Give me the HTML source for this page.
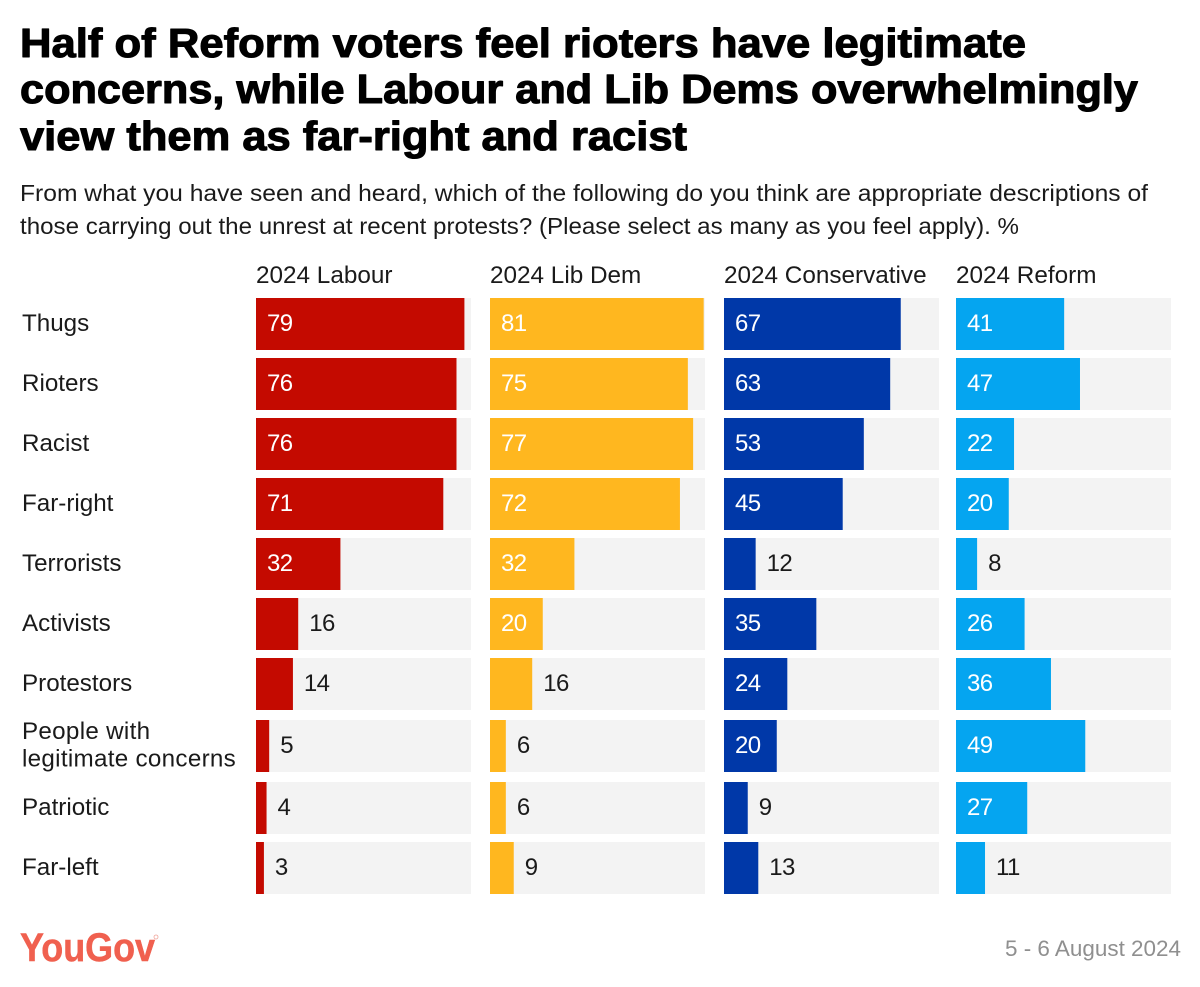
<!DOCTYPE html>
<html lang="en">
<head>
<meta charset="utf-8">
<title>YouGov chart</title>
<style>
html,body{margin:0;padding:0;background:#fff;width:1200px;height:987px;overflow:hidden}
svg{display:block}
text{font-family:"Liberation Sans",sans-serif}
.title{font-size:41px;font-weight:700;fill:#000;stroke:#000;stroke-width:1.1px;stroke-linejoin:round}
.sub{font-size:23.5px;fill:#1a1a1a}
.head{font-size:24.3px;fill:#1a1a1a}
.row{font-size:24.2px;fill:#1a1a1a}
.row-long{letter-spacing:0.3px}
.val{font-size:24px;letter-spacing:-0.6px}
</style>
</head>
<body>
<svg id="chart" xmlns="http://www.w3.org/2000/svg" width="1200" height="987" viewBox="0 0 1200 987">
<rect width="1200" height="987" fill="#fff"/>
<text class="title" x="20" y="57" textLength="1006" lengthAdjust="spacingAndGlyphs">Half of Reform voters feel rioters have legitimate</text>
<text class="title" x="20" y="103" textLength="1118" lengthAdjust="spacingAndGlyphs">concerns, while Labour and Lib Dems overwhelmingly</text>
<text class="title" x="20" y="150" textLength="667" lengthAdjust="spacingAndGlyphs">view them as far-right and racist</text>
<text class="sub" x="20" y="201" textLength="1128" lengthAdjust="spacingAndGlyphs">From what you have seen and heard, which of the following do you think are appropriate descriptions of</text>
<text class="sub" x="20" y="234" textLength="999" lengthAdjust="spacingAndGlyphs">those carrying out the unrest at recent protests? (Please select as many as you feel apply). %</text>
<g id="plot"></g>
<text x="20" y="961" font-size="40" font-weight="700" fill="#f0604f" stroke="#f0604f" stroke-width="0.5" textLength="135" lengthAdjust="spacingAndGlyphs">YouGov</text>
<circle cx="156" cy="937" r="2" fill="none" stroke="#f0a398" stroke-width="0.8"/>
<text x="1181" y="956" text-anchor="end" font-size="22.5" fill="#8f8f8f" textLength="176" lengthAdjust="spacingAndGlyphs">5 - 6 August 2024</text>
</svg>
<script>
const categories = [["Thugs"],["Rioters"],["Racist"],["Far-right"],["Terrorists"],["Activists"],["Protestors"],["People with","legitimate concerns"],["Patriotic"],["Far-left"]];
const seriesNames = ["2024 Labour","2024 Lib Dem","2024 Conservative","2024 Reform"];
const seriesColors = ["#c40a00","#ffb71f","#0038a8","#05a5f0"];
const labourValues = [79,76,76,71,32,16,14,5,4,3];
const libDemValues = [81,75,77,72,32,20,16,6,6,9];
const conservativeValues = [67,63,53,45,12,35,24,20,9,13];
const reformValues = [41,47,22,20,8,26,36,49,27,11];
const seriesValues = [labourValues,libDemValues,conservativeValues,reformValues];
const axisMax = 81.5;

const NS = "http://www.w3.org/2000/svg";
const plot = document.getElementById("plot");
const panelX = i => [256,490,724,956][i];
const panelW = 215;
const rowH = 52;
const xScale = v => v / axisMax * panelW;
const rowY = r => 298 + r * 60 + (r >= 7 ? 2 : 0) + (r >= 8 ? 2 : 0);
function mk(tag, attrs, txt){
  const e = document.createElementNS(NS, tag);
  for (const k in attrs) e.setAttribute(k, attrs[k]);
  if (txt !== undefined) e.textContent = txt;
  plot.appendChild(e);
  return e;
}
categories.forEach((lines, r) => {
  const y = rowY(r);
  lines.forEach((line, l) => {
    const base = lines.length === 1 ? y + 33 : y + 19 + l * 27.5;
    const t = mk("text", {class: lines.length > 1 ? "row row-long" : "row", x: 22, y: base}, line);
    
    
  });
});
seriesNames.forEach((name, s) => {
  const x0 = panelX(s);
  const h = mk("text", {class: "head", x: x0, y: 283}, name);
  
  
  seriesValues[s].forEach((v, r) => {
    const y = rowY(r);
    const track = mk("rect", {x: x0, y: y, width: panelW, height: rowH, fill: "#f3f3f3"});
    
    
    const w = xScale(v);
    const bar = mk("rect", {x: x0, y: y, width: w, height: rowH, fill: seriesColors[s]});
    
    
    const inside = v >= 20;
    const lab = mk("text", {class: "val", x: inside ? x0 + 11 : x0 + w + 11, y: y + 33, fill: inside ? "#fff" : "#1a1a1a"}, v);
    
    
  });
});
</script>
</body>
</html>
